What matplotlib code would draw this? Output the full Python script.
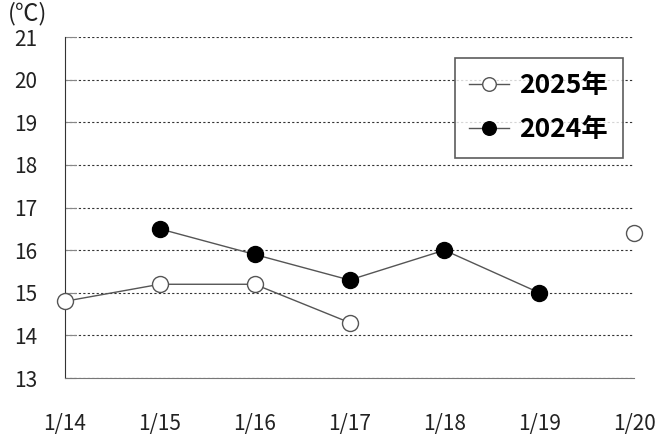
import matplotlib
matplotlib.use("Agg")
import matplotlib.pyplot as plt
import numpy as np

plt.rcParams['font.family'] = ['Noto Sans CJK JP', 'DejaVu Sans']

dates = ["1/14", "1/15", "1/16", "1/17", "1/18", "1/19", "1/20"]
temp_2025 = [14.8, 15.2, 15.2, 14.3, np.nan, np.nan, 16.4]
temp_2024 = [np.nan, 16.5, 15.9, 15.3, 16.0, 15.0, np.nan]
yticks = [13, 14, 15, 16, 17, 18, 19, 20, 21]

fig = plt.figure(figsize=(6.62, 4.37), dpi=100)
ax = fig.add_axes([0.098, 0.135, 0.860, 0.780])

x = np.arange(len(dates))
ax.plot(x, temp_2025, color="#555555", lw=1, marker="o", ms=11.5,
        mfc="white", mec="#555555", mew=1, clip_on=False, zorder=3, label="2025年")
ax.plot(x, temp_2024, color="#555555", lw=1, marker="o", ms=11.5,
        mfc="black", mec="black", clip_on=False, zorder=3, label="2024年")

ax.set_xlim(0, 6)
ax.set_ylim(13, 21)
ax.set_yticks(yticks)
ax.set_xticks(x)
ax.set_xticklabels(dates)
ax.yaxis.grid(True, color="#333333", linestyle=(0, (2, 2)), lw=0.8)
ax.set_axisbelow(True)

for s in ["top", "right"]:
    ax.spines[s].set_visible(False)
ax.spines["left"].set_color("#333333")
ax.spines["bottom"].set_color("#777777")

ax.tick_params(axis="y", direction="in", length=8, color="#888888",
               labelsize=15, pad=20, labelcolor="#222222")
ax.tick_params(axis="x", length=0, labelsize=15, pad=25, labelcolor="#222222")

fig.text(0.012, 0.968, "(℃)", fontsize=17, color="#222222", va="center")

leg = ax.legend(loc="upper right", bbox_to_anchor=(0.98, 0.94), frameon=True,
                fancybox=False, edgecolor="#333333", prop={"size": 19, "weight": "bold"},
                handlelength=1.5, borderpad=0.55, labelspacing=0.65, handletextpad=0.4,
                borderaxespad=0, markerscale=0.85)
leg.get_frame().set_linewidth(1.2)

fig.savefig("out.png", dpi=100)
